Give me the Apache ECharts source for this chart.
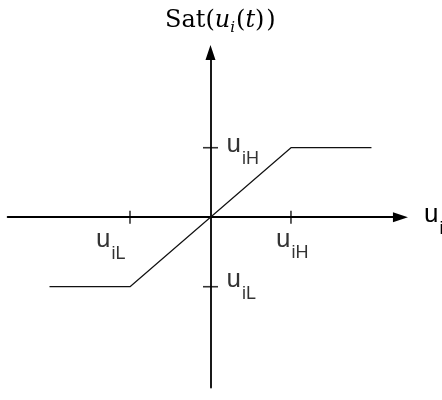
<!DOCTYPE html>
<html><head><meta charset="utf-8">
<script src="https://cdn.jsdelivr.net/npm/echarts@6/dist/echarts.min.js"></script>
<style>html,body{margin:0;padding:0;background:#fff}#c{width:442px;height:400px}</style>
</head><body><div id="c"></div>
<script>
// Saturation function Sat(u_i(t))
const satInput = [-2, -1, 1, 2];
const satOutput = [-1, -1, 1, 1];
const inputTicks = [-1, 1];
const inputTickLabels = ['iL', 'iH'];
const outputTicks = [-1, 1];
const outputTickLabels = ['iL', 'iH'];
const xAxisNameSub = 'i';

const chart = echarts.init(document.getElementById('c'), null, {renderer: 'canvas'});

const richLab = {
  u: {fontFamily: 'Liberation Sans', fontSize: 26, lineHeight: 26, verticalAlign: 'top', color: '#000', textBorderWidth: 0},
  s: {fontFamily: 'Liberation Sans', fontSize: 18, lineHeight: 53, verticalAlign: 'middle', padding: [0, 0, 0, 1], color: '#000', textBorderWidth: 0}
};
const xLabOffsets = [[-34, 10], [-15, 9.5]];
const yLabOffsets = [[16, -19.5], [16, -15.5]];

const labelItems = [];
inputTicks.forEach((v, i) => labelItems.push({
  value: [v, 0],
  label: {show: true, position: 'inside', align: 'left', verticalAlign: 'top', offset: xLabOffsets[i],
    color: '#000', textBorderWidth: 0,
    formatter: '{u|u}{s|' + inputTickLabels[i] + '}', rich: richLab}
}));
outputTicks.forEach((v, i) => labelItems.push({
  value: [0, v],
  label: {show: true, position: 'inside', align: 'left', verticalAlign: 'top', offset: yLabOffsets[i],
    color: '#000', textBorderWidth: 0,
    formatter: '{u|u}{s|' + outputTickLabels[i] + '}', rich: richLab}
}));

const serif = 'DejaVu Serif';
chart.setOption({
  animation: false,
  backgroundColor: '#fff',
  title: {
    text: '{r|Sat(}{it|u}{sub|i}{r|(}{it|t}{r|)}{gap| }{r|)}',
    left: 165, top: 9, padding: 0,
    textStyle: {
      fontWeight: 'normal',
      rich: {
        r: {fontFamily: serif, fontWeight: 'normal', fontSize: 24, lineHeight: 27, verticalAlign: 'top', color: '#000'},
        it: {fontFamily: serif, fontWeight: 'normal', fontStyle: 'italic', fontSize: 24, lineHeight: 27, verticalAlign: 'top', color: '#000'},
        gap: {fontFamily: serif, fontSize: 6, lineHeight: 6, verticalAlign: 'top'},
        sub: {fontFamily: serif, fontWeight: 'normal', fontStyle: 'italic', fontSize: 15, lineHeight: 39, verticalAlign: 'middle', padding: [0, 1, 0, 0], color: '#000'}
      }
    }
  },
  grid: {left: 7.64, right: 41.56, top: 52.5, bottom: 12.5, containLabel: false, outerBoundsMode: 'none'},
  xAxis: {
    type: 'value', min: -2.52, max: 2.36,
    splitLine: {show: false}, axisTick: {show: false}, axisLabel: {show: false},
    axisLine: {onZero: true, symbol: ['none', 'triangle'], symbolSize: [10, 15], lineStyle: {color: '#000', width: 1.8}},
    name: '{u|u}{s|' + xAxisNameSub + '}', nameLocation: 'end', nameGap: 23.5,
    nameTextStyle: {padding: [23, 0, 0, 0], rich: richLab}
  },
  yAxis: {
    type: 'value', min: -2.45, max: 2.37,
    splitLine: {show: false}, axisTick: {show: false}, axisLabel: {show: false},
    axisLine: {onZero: true, symbol: ['none', 'triangle'], symbolSize: [10, 15], lineStyle: {color: '#000', width: 1.8}}
  },
  series: [
    {
      type: 'line', data: satInput.map((x, i) => [x, satOutput[i]]),
      showSymbol: false, symbol: 'none',
      lineStyle: {color: '#111', width: 1.2}, z: 3
    },
    {
      type: 'scatter', data: inputTicks.map(v => [v, 0]),
      symbol: 'rect', symbolSize: [1.6, 13], itemStyle: {color: '#000'}, z: 4
    },
    {
      type: 'scatter', data: outputTicks.map(v => [0, v]),
      symbol: 'rect', symbolSize: [15, 1.6], itemStyle: {color: '#000'}, z: 4
    },
    {
      type: 'scatter', data: labelItems, symbol: 'circle', symbolSize: 1,
      itemStyle: {color: 'rgba(0,0,0,0)'}, z: 5
    }
  ]
});
</script>
</body></html>
